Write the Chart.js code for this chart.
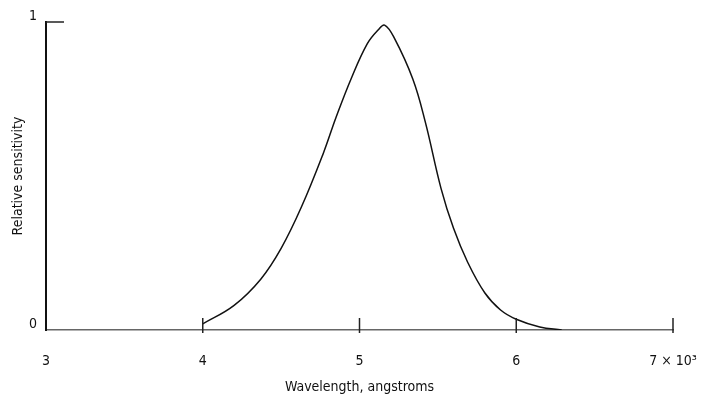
<!DOCTYPE html>
<html>
<head>
<meta charset="utf-8">
<script src="https://cdn.jsdelivr.net/npm/chart.js@4"></script>
<style>
	html, body { margin: 0; padding: 0; background: #fff; }
	#wrap { width: 708px; height: 407px; }
</style>
</head>
<body>
<div id="wrap"><canvas id="myChart" width="708" height="407"></canvas></div>
<script>
let wavelength = [4.0, 4.2, 4.37, 4.5, 4.63, 4.77, 4.85, 4.95, 5.05, 5.12, 5.16, 5.22, 5.34, 5.42, 5.52, 5.6, 5.69, 5.8, 5.9, 6.0, 6.15, 6.29];
let sensitivity = [0.02, 0.08, 0.165, 0.265, 0.4, 0.575, 0.69, 0.82, 0.93, 0.975, 0.99, 0.95, 0.815, 0.675, 0.46, 0.33, 0.22, 0.12, 0.065, 0.035, 0.01, 0.0];
let xTicks = [3, 4, 5, 6, 7];
let xTickLabels = ["3", "4", "5", "6", "7 \u00d7 10\u00b3"];
let yTicks = [0, 1];

let fontFamily = "'DejaVu Sans Condensed', 'Liberation Sans Narrow', sans-serif";

let points = [];
for (let i = 0; i < wavelength.length; i++) {
	points.push({ x: wavelength[i], y: sensitivity[i] });
}

// short tick marks standing up from the x axis and the "1" tick on the y axis
let axisMarks = {
	id: "axisMarks",
	afterDraw(chart) {
		let ctx = chart.ctx;
		let xs = chart.scales.x;
		let ys = chart.scales.y;
		let base = ys.getPixelForValue(0);
		ctx.save();
		ctx.strokeStyle = "#222";
		ctx.lineWidth = 1.5;
		for (let t of xTicks.slice(1)) {
			let px = xs.getPixelForValue(t);
			ctx.beginPath();
			ctx.moveTo(px, base + 3);
			ctx.lineTo(px, base - 12);
			ctx.stroke();
		}
		let top = ys.getPixelForValue(1);
		ctx.beginPath();
		ctx.moveTo(xs.getPixelForValue(3), top);
		ctx.lineTo(xs.getPixelForValue(3) + 18, top);
		ctx.stroke();
		ctx.restore();
	},
};

var ctx = document.getElementById("myChart").getContext("2d");
var chart = new Chart(ctx, {
	type: "scatter",
	data: {
		datasets: [
			{
				data: points,
				showLine: true,
				borderColor: "#111",
				borderWidth: 1.5,
				pointRadius: 0,
				tension: 0.4,
			},
		],
	},
	options: {
		responsive: false,
		animation: false,
		layout: { padding: { left: 0, right: 35, top: 22, bottom: 0 } },
		plugins: { legend: { display: false }, tooltip: { enabled: false } },
		scales: {
			x: {
				type: "linear",
				min: 3,
				max: 7,
				afterFit: (scale) => {
					scale.height = 77;
					scale.paddingLeft = 0;
					scale.paddingRight = 0;
				},
				afterBuildTicks: (scale) => { scale.ticks = xTicks.map((v) => ({ value: v })); },
				grid: { display: false, drawTicks: false },
				border: { display: true, color: "#666", width: 1.5, dash: [34, 5, 3, 5] },
				ticks: {
					color: "#111",
					padding: 23,
					font: { family: fontFamily, size: 14 },
					callback: (v) => xTickLabels[xTicks.indexOf(v)],
				},
				title: {
					display: true,
					text: "Wavelength, angstroms",
					color: "#111",
					font: { family: fontFamily, size: 14 },
					padding: { top: 0, bottom: 11 },
				},
			},
			y: {
				min: 0,
				max: 1,
				afterFit: (scale) => {
					scale.width = 46;
					scale.paddingTop = 0;
					scale.paddingBottom = 0;
				},
				afterBuildTicks: (scale) => { scale.ticks = yTicks.map((v) => ({ value: v })); },
				grid: { display: false, drawTicks: false },
				border: { display: true, color: "#111", width: 2 },
				ticks: {
					color: "#111",
					padding: 9,
					labelOffset: -6,
					font: { family: fontFamily, size: 14 },
					callback: (v) => String(v),
				},
				title: {
					display: true,
					text: "Relative sensitivity",
					color: "#111",
					font: { family: fontFamily, size: 14 },
					padding: { top: 10, bottom: 0 },
				},
			},
		},
	},
	plugins: [axisMarks],
});
</script>
</body>
</html>
